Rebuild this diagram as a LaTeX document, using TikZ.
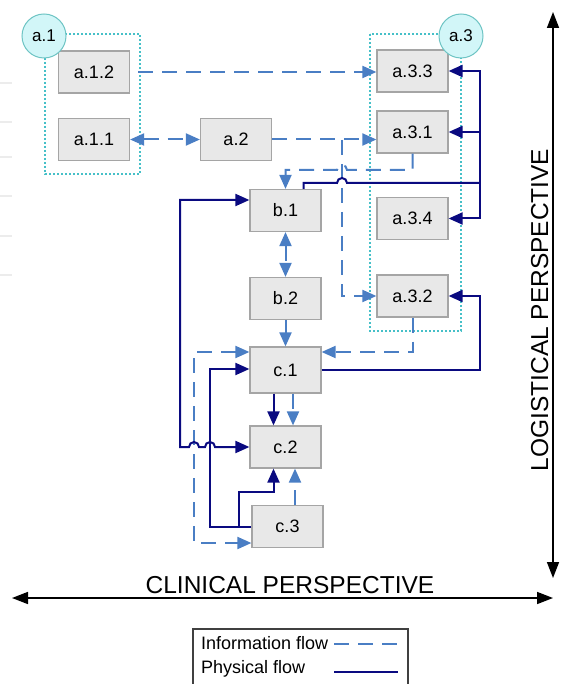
\documentclass[tikz,border=0pt]{standalone}
\usepackage{fontspec}
\setmainfont{Liberation Sans}
\usetikzlibrary{arrows.meta,calc}
\definecolor{infoc}{RGB}{74,126,196}
\definecolor{physc}{RGB}{10,10,128}
\definecolor{dotc}{RGB}{70,192,200}
\definecolor{boxfill}{RGB}{232,232,232}
\definecolor{boxdraw}{RGB}{165,165,165}
\definecolor{circfill}{RGB}{210,246,248}
\definecolor{circdraw}{RGB}{110,196,196}
\begin{document}
\begin{tikzpicture}[x=1pt,y=-1pt,
  box/.style={draw=boxdraw,fill=boxfill,line width=1.2pt,minimum width=71pt,minimum height=42pt,inner sep=0pt,font=\fontsize{18}{20}\selectfont},
  grp/.style={circle,draw=circdraw,fill=circfill,line width=1pt,minimum size=44pt,inner sep=0pt,font=\fontsize{17}{19}\selectfont},
  dotbox/.style={draw=dotc,line width=2pt,dash pattern=on 2pt off 2pt},
  info/.style={draw=infoc,line width=2pt,dash pattern=on 15pt off 9pt},
  phys/.style={draw=physc,line width=2pt},
  tip/.style={-{Triangle[length=14pt,width=12pt]}},
  tips/.style={{Triangle[length=14pt,width=12pt]}-{Triangle[length=14pt,width=12pt]}},
  axis/.style={line width=1.6pt,black,{Triangle[length=16pt,width=12pt]}-{Triangle[length=16pt,width=12pt]}},
  axtext/.style={font=\fontsize{24.5}{26}\selectfont,inner sep=0pt},
  legtext/.style={font=\fontsize{18}{20}\selectfont,inner sep=0pt,anchor=base west}]
\useasboundingbox (0,0) rectangle (565,684);
% faint marks at left edge
\foreach \yy in {83,122,157,196,236,275} \draw[gray!15,line width=1.5pt] (0,\yy) -- (12,\yy);
% group frames
\draw[dotbox] (45,34) rectangle (140,174);
\draw[dotbox] (370,34) rectangle (461,331);
% boxes
\node[box] (a12) at (94,72) {a.1.2};
\node[box] (a11) at (94,139.5) {a.1.1};
\node[box] (a2) at (236,139.5) {a.2};
\node[box] (a33) at (412.5,71) {a.3.3};
\node[box] (a31) at (412.5,132) {a.3.1};
\node[box] (a34) at (412.5,218.5) {a.3.4};
\node[box] (a32) at (412.5,296) {a.3.2};
\node[box] (b1) at (285.5,210.5) {b.1};
\node[box] (b2) at (285.5,298.5) {b.2};
\node[box,minimum height=46pt] (c1) at (285.5,370) {c.1};
\node[box] (c2) at (285.5,447) {c.2};
\node[box] (c3) at (287.5,526.5) {c.3};
\node[grp] (a1) at (44,36) {a.1};
\node[grp] (a3) at (461,36) {a.3};
% helper coordinates
\coordinate (y170) at (0,170);
\coordinate (y183) at (0,183);
\coordinate (y200) at (0,200);
\coordinate (y352) at (0,352);
\coordinate (y369) at (0,369);
\coordinate (y492) at (0,492);
\coordinate (y527) at (0,527);
\coordinate (y543) at (0,543);
\coordinate (br) at (342,140);
\coordinate (bus) at (480,183);
\coordinate (xl1) at (180,0);
\coordinate (xl2) at (194,0);
\coordinate (xl3) at (210,0);
\coordinate (xl4) at (239,0);
\coordinate (xp) at (273.5,0);
\coordinate (xi) at (293,0);
\coordinate (xi3) at (295,0);
% information flows
\draw[info,tip,shorten <=8pt] (a12.east) -- (a12.east -| a33.west);
\draw[info,tips] (a11.east) -- (a2.west);
\draw[info,tip] (a2.east) -- (a2.east -| a31.west);
\draw[info,tip] (br) -- (br |- a32.west) -- (a32.west);
\draw[info,tip] (a31.south) -- (a31.south |- y170) -- (347,170) arc (0:180:5pt) -- (b1.north |- y170) -- (b1.north);
\draw[info,tips] (b1.south) -- (b2.north);
\draw[info,tip] (b2.south) -- (c1.north);
\draw[info,tip] (a32.south) -- (a32.south |- y352) -- (c1.east |- y352);
\draw[info,tips] (c1.west |- y352) -- (xl2 |- y352) -- (xl2 |- y543) -- (c3.west |- y543);
\draw[info,tip] (c1.south -| xi) -- (c2.north -| xi);
\draw[info,tip] (c3.north -| xi3) -- (c2.south -| xi3);
% physical flows
\draw[phys] ($(b1.north)+(18,0)$) -- ++(0,-6) -- (337,183) arc (180:0:5pt) -- (bus);
\draw[phys,tip] (bus) -- (bus |- a33.east) -- (a33.east);
\draw[phys,tip] (bus |- a31.east) -- (a31.east);
\draw[phys,tip] (bus) -- (bus |- a34.east) -- (a34.east);
\draw[phys,tip] (c1.east) -- (c1.east -| bus) -- (bus |- a32.east) -- (a32.east);
\draw[phys,tips] (b1.west |- y200) -- (xl1 |- y200) -- (xl1 |- c2.west) -- (189,447) arc (180:0:5pt) -- (205,447) arc (180:0:5pt) -- (c2.west);
\draw[phys,tip] (c3.west |- y527) -- (xl3 |- y527) -- (xl3 |- y369) -- (c1.west |- y369);
\draw[phys,tip] (xl4 |- y527) -- (xl4 |- y492) -- (xp |- y492) -- (c2.south -| xp);
\draw[phys,tip] (c1.south -| xp) -- (c2.north -| xp);
% perspective axes
\coordinate (vt) at (553,12);
\coordinate (vb) at (553,578);
\coordinate (hl) at (12,598);
\coordinate (hr) at (553,598);
\draw[axis] (vt) -- (vb);
\draw[axis] (hl) -- (hr);
\node[axtext,anchor=base] (clin) at (290,593) {CLINICAL PERSPECTIVE};
\node[axtext,anchor=base,rotate=90] (logi) at (548,310) {LOGISTICAL PERSPECTIVE};
% legend
\draw[draw=black!75,line width=1.2pt] (193,629) rectangle (408,700);
\node[legtext] (li) at (201,649) {Information flow};
\node[legtext] (lp) at (201,673) {Physical flow};
\coordinate (lia) at (334,644);
\coordinate (lib) at (398,644);
\coordinate (lpa) at (334,672);
\coordinate (lpb) at (398,672);
\draw[info] (lia) -- (lib);
\draw[phys] (lpa) -- (lpb);
\end{tikzpicture}
\end{document}
